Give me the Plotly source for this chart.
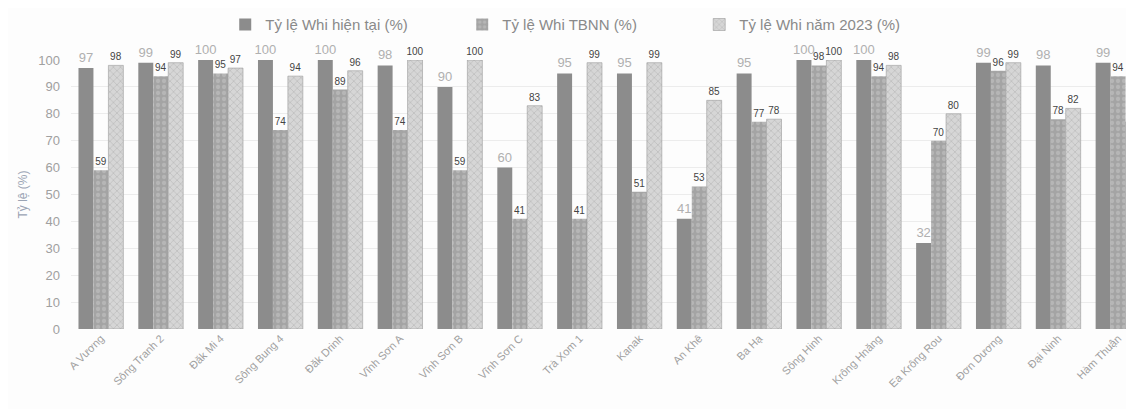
import plotly.graph_objects as go

categories = ["A Vương", "Sông Tranh 2", "Đăk Mi 4", "Sông Bung 4", "Đăk Drinh",
              "Vĩnh Sơn A", "Vĩnh Sơn B", "Vĩnh Sơn C", "Trà Xom 1", "Kanak",
              "An Khê", "Ba Hạ", "Sông Hinh", "Krông Hnăng", "Ea Krông Rou",
              "Đơn Dương", "Đại Ninh", "Hàm Thuận"]
hien_tai = [97, 99, 100, 100, 100, 98, 90, 60, 95, 95, 41, 95, 100, 100, 32, 99, 98, 99]
tbnn = [59, 94, 95, 74, 89, 74, 59, 41, 41, 51, 53, 77, 98, 94, 70, 96, 78, 94]
nam_2023 = [98, 99, 97, 94, 96, 100, 100, 83, 99, 99, 85, 78, 100, 98, 80, 99, 82, 77]

series_names = ["Tỷ lệ Whi hiện tại (%)", "Tỷ lệ Whi TBNN (%)", "Tỷ lệ Whi năm 2023 (%)"]

fig = go.Figure()
fig.add_trace(go.Bar(
    x=categories, y=hien_tai, name=series_names[0],
    marker=dict(color="#8c8c8c", line=dict(width=0)),
    text=hien_tai, textposition="outside", constraintext="none",
    textfont=dict(color="#b0b0b0", size=13, family="Liberation Sans"),
    cliponaxis=False,
))
fig.add_trace(go.Bar(
    x=categories, y=tbnn, name=series_names[1],
    marker=dict(color="#a8a8a8", line=dict(width=0),
                pattern=dict(shape=".", fgcolor="#c8c8c8", bgcolor="#a4a4a4", size=6, solidity=0.4)),
    text=tbnn, textposition="outside", constraintext="none",
    textfont=dict(color="#444444", size=10, family="Liberation Sans"),
    cliponaxis=False,
))
fig.add_trace(go.Bar(
    x=categories, y=nam_2023, name=series_names[2],
    marker=dict(color="#c6c6c6", line=dict(width=0.6, color="#9a9a9a"),
                pattern=dict(shape="x", fgcolor="#a9a9a9", bgcolor="#d6d6d6", size=5, solidity=0.3)),
    text=nam_2023, textposition="outside", constraintext="none",
    textfont=dict(color="#444444", size=10, family="Liberation Sans"),
    cliponaxis=False,
))

fig.update_layout(
    width=1134, height=409,
    margin=dict(l=63, r=0, t=41, b=88),
    paper_bgcolor="#fdfdfd", plot_bgcolor="#fdfdfd",
    barmode="group", bargap=0.25, bargroupgap=0,
    font=dict(family="Liberation Sans", color="#9a9a9a"),
    showlegend=True,
    legend=dict(orientation="h", x=0.144, xanchor="left", y=1.131, yanchor="middle",
                font=dict(size=15, color="#8a8a8a"), traceorder="normal",
                entrywidth=192, entrywidthmode="pixels", itemwidth=30,
                bgcolor="rgba(0,0,0,0)"),
    xaxis=dict(range=[-0.5, 17.4], tickangle=-45, tickfont=dict(size=11, color="#a0a0a0"),
               showline=False, ticks="", automargin=False),
    yaxis=dict(range=[0, 100], dtick=10, showgrid=True, gridcolor="#ececec",
               tickfont=dict(size=13, color="#a0a0a0"), zeroline=False, automargin=False,
               ticklabelstandoff=10,
               title=dict(text="Tỷ lệ (%)", font=dict(size=12, color="#9aa4b4"), standoff=8)),
)

fig.write_html("out.html")
